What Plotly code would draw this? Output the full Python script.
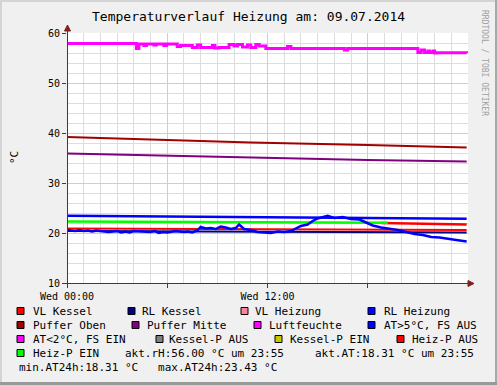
import plotly.graph_objects as go

# ---------------- data (hours since Wed 00:00) ----------------
at_hours = [0, 0.25, 0.5, 0.75, 1, 1.25, 1.5, 1.75, 2, 2.5, 3, 3.25, 3.5, 3.75, 4, 4.5, 5, 5.25,
            5.5, 5.75, 6, 6.5, 7, 7.25, 7.5, 7.8, 8.0, 8.3, 8.6, 8.9, 9.2, 9.5, 9.8, 10.1, 10.3,
            10.6, 11.0, 11.4, 11.8, 12.2, 12.6, 13.0, 13.4, 13.7, 14.0, 14.4, 14.7, 15.0, 15.3,
            15.6, 16.0, 16.5, 17.0, 17.5, 17.9, 18.3, 18.8, 19.3, 19.8, 20.3, 20.8, 21.3, 21.8,
            22.3, 22.8, 23.3, 23.92]
at_values = [20.6, 20.5, 20.4, 20.6, 20.4, 20.5, 20.3, 20.5, 20.4, 20.2, 20.4, 20.1, 20.3, 20.1,
             20.4, 20.3, 20.2, 20.4, 20.0, 20.2, 20.1, 20.4, 20.2, 20.3, 20.1, 20.5, 21.2, 20.9,
             21.0, 20.8, 21.3, 21.1, 20.8, 21.0, 21.7, 20.8, 20.6, 20.2, 20.1, 20.0, 20.3, 20.2,
             20.4, 20.9, 21.4, 21.7, 22.4, 22.9, 23.2, 23.43, 23.0, 23.2, 22.8, 22.7, 22.1, 21.5,
             21.1, 20.9, 20.6, 20.2, 19.8, 19.6, 19.2, 19.1, 18.8, 18.6, 18.31]

rh_hours = [0, 4.15, 4.3, 4.6, 4.75, 5.2, 5.35, 5.8, 5.95, 6.6, 6.8, 7.5, 7.8, 8.0, 8.7, 8.85,
            9.1, 9.7, 10.0, 10.2, 10.5, 10.8, 11.0, 11.3, 11.5, 11.9, 13.2, 13.4, 16.6, 16.8,
            21.0, 21.2, 21.4, 21.6, 21.7, 21.9, 22.0, 22.1, 23.92]
rh_values = [57.9, 56.9, 57.8, 57.5, 57.8, 57.6, 57.8, 57.5, 57.8, 57.3, 57.5, 57.1, 57.6, 57.1,
             57.5, 57.0, 57.1, 57.7, 57.4, 57.7, 57.2, 57.6, 57.1, 57.7, 57.4, 56.9, 57.3, 56.9,
             56.6, 56.9, 56.1, 56.6, 56.1, 56.4, 56.1, 56.4, 56.0, 56.05, 56.0]

puffer_hours = [0, 5, 11, 18, 23.92]
puffer_oben = [39.2, 38.7, 38.1, 37.6, 37.1]
puffer_mitte = [35.9, 35.5, 35.1, 34.6, 34.3]

flat_hours = [0, 23.92]
vl_kessel = [20.9, 20.6]
rl_kessel = [20.4, 20.1]
rl_heizung = [23.45, 22.85]

heizp_ein_hours = [0, 19.2]
heizp_ein = [22.3, 22.05]
heizp_aus_hours = [18.8, 23.92]
heizp_aus = [22.0, 21.7]

x_tick_vals = [0, 6, 12, 18]
x_tick_text = ["Wed 00:00", "", "Wed 12:00", ""]
y_tick_vals = [10, 20, 30, 40, 50, 60]

legend_labels = ["VL Kessel", "RL Kessel", "VL Heizung", "RL Heizung",
                 "Puffer Oben", "Puffer Mitte", "Luftfeuchte", "AT>5°C, FS AUS",
                 "AT<2°C, FS EIN", "Kessel-P AUS", "Kessel-P EIN", "Heiz-P AUS",
                 "Heiz-P EIN"]
info_texts = ["akt.rH:56.00 °C um 23:55", "akt.AT:18.31 °C um 23:55",
              "min.AT24h:18.31 °C   max.AT24h:23.43 °C"]

# ---------------- layout helpers ----------------
W, H = 497, 385
L, T, PW, PH = 67, 33, 401, 250
FONT = "DejaVu Sans Mono"


def px(x):
    return (x - L) / PW


def py(y):
    return (T + PH - y) / PH


fig = go.Figure()


def line(xs, ys, color, width=2, shape="linear"):
    fig.add_trace(go.Scatter(x=xs, y=ys, mode="lines", line=dict(color=color, width=width, shape=shape),
                             showlegend=False, hoverinfo="skip"))


line(flat_hours, vl_kessel, "#FF0000")
line(flat_hours, rl_kessel, "#000080")
line(flat_hours, rl_heizung, "#0000FF", 2.5)
line(puffer_hours, puffer_oben, "#A00000")
line(puffer_hours, puffer_mitte, "#800080")
line(rh_hours, rh_values, "#FF00FF", 3, "hv")
line(heizp_aus_hours, heizp_aus, "#FF0000", 2.5)
line(heizp_ein_hours, heizp_ein, "#00FF00", 2.5)
line(at_hours, at_values, "#0000FF", 2.5)

AX = "#7F2020"
shapes = []
# figure border
shapes.append(dict(type="line", xref="paper", yref="paper", x0=px(0), x1=px(W), y0=py(1), y1=py(1),
                   line=dict(color="#D4D4D4", width=2)))
shapes.append(dict(type="line", xref="paper", yref="paper", x0=px(1), x1=px(1), y0=py(0), y1=py(H),
                   line=dict(color="#D4D4D4", width=2)))
shapes.append(dict(type="line", xref="paper", yref="paper", x0=px(W - 1), x1=px(W - 1), y0=py(0), y1=py(H),
                   line=dict(color="#A8A8A8", width=2)))
shapes.append(dict(type="line", xref="paper", yref="paper", x0=px(0), x1=px(W), y0=py(H - 1.5), y1=py(H - 1.5),
                   line=dict(color="#999999", width=3)))
# axes with arrows
shapes.append(dict(type="line", xref="paper", yref="paper", x0=px(67.5), x1=px(67.5), y0=py(287), y1=py(29),
                   line=dict(color=AX, width=1)))
shapes.append(dict(type="line", xref="paper", yref="paper", x0=px(63), x1=px(470), y0=py(283.5), y1=py(283.5),
                   line=dict(color=AX, width=1)))
shapes.append(dict(type="path", xref="paper", yref="paper",
                   path=f"M {px(64.5)},{py(31)} L {px(67.5)},{py(25)} L {px(70.5)},{py(31)} Z",
                   fillcolor=AX, line=dict(color=AX, width=1)))
shapes.append(dict(type="path", xref="paper", yref="paper",
                   path=f"M {px(468)},{py(280.5)} L {px(474)},{py(283.5)} L {px(468)},{py(286.5)} Z",
                   fillcolor=AX, line=dict(color=AX, width=1)))

annotations = []
# legend
legend_colors = ["#FF0000", "#000080", "#FF8099", "#0000FF", "#A00000", "#800080", "#FF00FF",
                 "#0000FF", "#FF00FF", "#808080", "#C8C800", "#FF0000", "#00FF00"]
legend_pos = [(17, 31, 311), (128, 140, 311), (241, 253, 311), (368, 382, 311),
              (17, 31, 325), (132, 145, 325), (254, 267, 325), (368, 382, 325),
              (17, 31, 339), (156, 167, 339), (275, 288, 339), (397, 410, 339),
              (17, 31, 353)]
for lab, col, (sx, tx, ry) in zip(legend_labels, legend_colors, legend_pos):
    shapes.append(dict(type="rect", xref="paper", yref="paper", x0=px(sx), x1=px(sx + 7),
                       y0=py(ry + 3.5), y1=py(ry - 3.5), fillcolor=col, line=dict(color="#000000", width=1)))
    annotations.append(dict(x=px(tx), y=py(ry), xref="paper", yref="paper", text=lab, showarrow=False,
                            xanchor="left", yanchor="middle", font=dict(family=FONT, size=11, color="#000")))
for txt, (tx, ry) in zip(info_texts, [(123, 353), (312.5, 353), (17, 367)]):
    annotations.append(dict(x=px(tx), y=py(ry), xref="paper", yref="paper", text=txt, showarrow=False,
                            xanchor="left", yanchor="middle", font=dict(family=FONT, size=11, color="#000")))

# title, y-axis label, watermark
annotations.append(dict(x=px(248), y=py(17), xref="paper", yref="paper",
                        text="Temperaturverlauf Heizung am: 09.07.2014", showarrow=False,
                        xanchor="center", yanchor="middle", font=dict(family=FONT, size=13, color="#000")))
annotations.append(dict(x=px(14), y=py(157), xref="paper", yref="paper", text="°C", showarrow=False,
                        textangle=-90, xanchor="center", yanchor="middle",
                        font=dict(family=FONT, size=11, color="#000")))
annotations.append(dict(x=px(485), y=py(63), xref="paper", yref="paper", text="RRDTOOL / TOBI OETIKER",
                        showarrow=False, textangle=90, xanchor="center", yanchor="middle",
                        font=dict(family=FONT, size=8, color="#A0A0A0")))

fig.update_layout(
    width=W, height=H,
    margin=dict(l=L, r=W - L - PW, t=T, b=H - T - PH, pad=0),
    paper_bgcolor="#F0F0F0", plot_bgcolor="#FFFFFF",
    font=dict(family=FONT, size=10, color="#000"),
    shapes=shapes, annotations=annotations,
    xaxis=dict(range=[0, 24], tickmode="array", tickvals=x_tick_vals, ticktext=x_tick_text,
               showgrid=True, gridcolor="#F5BDBD", gridwidth=1, zeroline=False, showline=False,
               ticks="outside", ticklen=4, tickcolor=AX,
               minor=dict(dtick=1, tick0=0, showgrid=True, gridcolor="#DDDDDD", gridwidth=1),
               tickfont=dict(family=FONT, size=10), fixedrange=True),
    yaxis=dict(range=[10, 60], tickmode="array", tickvals=y_tick_vals,
               showgrid=True, gridcolor="#F5BDBD", gridwidth=1, zeroline=False, showline=False,
               ticks="outside", ticklen=4, tickcolor=AX,
               minor=dict(dtick=2, tick0=10, showgrid=True, gridcolor="#DDDDDD", gridwidth=1),
               tickfont=dict(family=FONT, size=10), fixedrange=True),
)

fig.write_html("out.html", config={"displayModeBar": False},
               post_script="document.body.style.margin='0';document.body.style.padding='0';"
                           "document.documentElement.style.overflow='hidden';")
